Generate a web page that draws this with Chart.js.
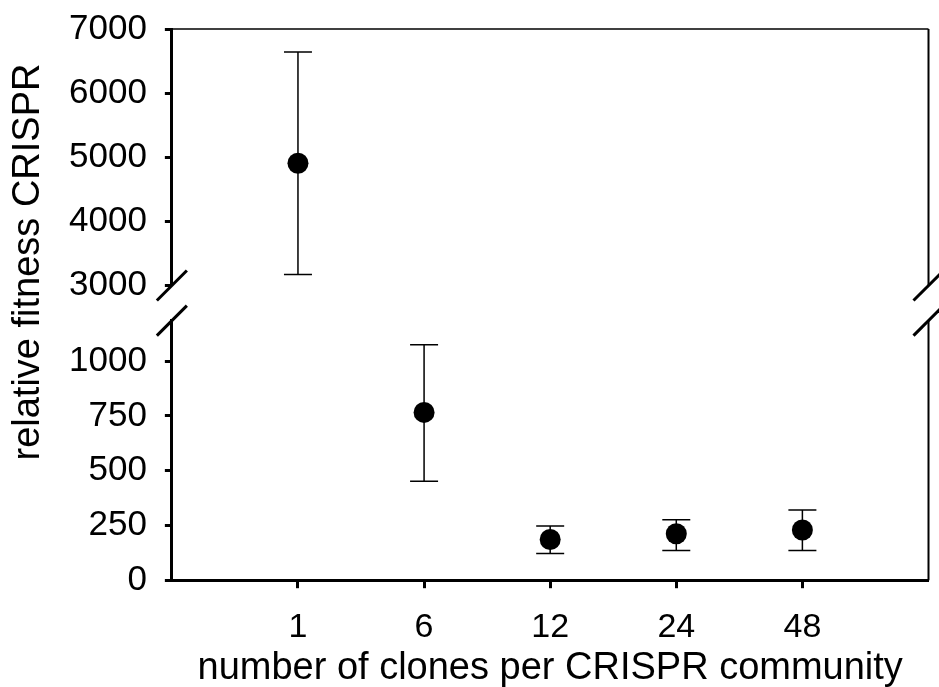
<!DOCTYPE html>
<html>
<head>
<meta charset="utf-8">
<script src="https://cdn.jsdelivr.net/npm/chart.js@4.4.1/dist/chart.umd.min.js"></script>
<style>
  html, body { margin: 0; padding: 0; background: #fff; }
  #wrap { width: 939px; height: 687px; }
</style>
</head>
<body>
<div id="wrap"><canvas id="fitnessChart" width="939" height="687"></canvas></div>
<script>
// values (mean with error bar ends)
const cloneLabels = ['1', '6', '12', '24', '48'];
const meanFitness = [4907, 766, 186, 212, 229];
const upperFitness = [6643, 1075, 247, 276, 320];
const lowerFitness = [3171, 452, 122, 136, 136];
const upperTicks = [3000, 4000, 5000, 6000, 7000];
const lowerTicks = [0, 250, 500, 750, 1000];
const breakAt = 2000;

const FONT = '"Liberation Sans", Arial, sans-serif';

// points above the break go to the upper panel, the rest to the lower one
function panelData(upper) {
  const out = [];
  meanFitness.forEach((v, i) => {
    if ((v > breakAt) === upper) {
      out.push({ x: i + 1, y: v, lo: lowerFitness[i], hi: upperFitness[i] });
    }
  });
  return out;
}

const errorBars = {
  id: 'errorBars',
  beforeDatasetsDraw(chart) {
    const ctx = chart.ctx;
    ctx.save();
    ctx.strokeStyle = '#000';
    ctx.lineWidth = 1.5;
    chart.data.datasets.forEach((ds, i) => {
      const meta = chart.getDatasetMeta(i);
      const ys = chart.scales[ds.yAxisID];
      meta.data.forEach((pt, j) => {
        const d = ds.data[j];
        const top = ys.getPixelForValue(d.hi);
        const bot = ys.getPixelForValue(d.lo);
        ctx.beginPath();
        ctx.moveTo(pt.x, top); ctx.lineTo(pt.x, bot);
        ctx.moveTo(pt.x - 14, top); ctx.lineTo(pt.x + 14, top);
        ctx.moveTo(pt.x - 14, bot); ctx.lineTo(pt.x + 14, bot);
        ctx.stroke();
      });
    });
    ctx.restore();
  }
};

// frame, axis break marks and the y title
const frame = {
  id: 'frame',
  afterDraw(chart) {
    const ctx = chart.ctx;
    const { left, right, top, bottom } = chart.chartArea;
    const upTop = chart.scales.yTop;
    const lowBot = chart.scales.yBot;
    ctx.save();
    ctx.strokeStyle = '#000';
    ctx.lineWidth = 1.5;
    ctx.beginPath();
    ctx.moveTo(left, top); ctx.lineTo(right, top);
    ctx.stroke();
    ctx.lineWidth = 2;
    ctx.beginPath();
    ctx.moveTo(right, top); ctx.lineTo(right, upTop.bottom);
    ctx.moveTo(right, lowBot.top); ctx.lineTo(right, bottom);
    ctx.stroke();

    ctx.lineWidth = 3;
    [left, right].forEach(x => {
      [upTop.bottom, lowBot.top].forEach(y => {
        ctx.beginPath();
        ctx.moveTo(x - 15, y + 15);
        ctx.lineTo(x + 15, y - 15);
        ctx.stroke();
      });
    });

    ctx.translate(29, 262);
    ctx.rotate(-Math.PI / 2);
    ctx.fillStyle = '#000';
    ctx.font = '38px ' + FONT;
    ctx.textAlign = 'center';
    ctx.textBaseline = 'middle';
    ctx.fillText('relative fitness CRISPR', 0, 0);
    ctx.restore();
  }
};

function yAxis(extra, ticks) {
  return Object.assign({
    type: 'linear',
    position: 'left',
    stack: 'fitness',
    afterBuildTicks: s => { s.ticks = ticks.map(v => ({ value: v })); },
    ticks: {
      callback: v => String(v),
      font: { family: FONT, size: 35, lineHeight: 0.6 },
      color: '#000',
      padding: 18
    },
    grid: { drawOnChartArea: false, tickLength: 7, tickWidth: 3, tickColor: '#000' },
    border: { color: '#000', width: 3 }
  }, extra);
}

new Chart(document.getElementById('fitnessChart'), {
  type: 'scatter',
  data: {
    datasets: [
      { data: panelData(true), yAxisID: 'yTop' },
      { data: panelData(false), yAxisID: 'yBot' }
    ]
  },
  options: {
    responsive: false,
    animation: false,
    events: [],
    layout: { padding: { left: 51, right: 2, top: 29, bottom: 0 } },
    elements: {
      point: { radius: 10.5, backgroundColor: '#000', borderColor: '#000', borderWidth: 0 }
    },
    plugins: { legend: { display: false }, tooltip: { enabled: false } },
    scales: {
      x: {
        type: 'linear',
        min: 0,
        max: 6,
        afterBuildTicks: s => { s.ticks = cloneLabels.map((_, i) => ({ value: i + 1 })); },
        ticks: {
          callback: v => cloneLabels[v - 1],
          font: { family: FONT, size: 34, lineHeight: 1 },
          color: '#000', padding: 22, maxRotation: 0, autoSkip: false
        },
        grid: { drawOnChartArea: false, tickLength: 8, tickWidth: 3, tickColor: '#000' },
        border: { color: '#000', width: 3 },
        title: {
          display: true,
          text: 'number of clones per CRISPR community',
          font: { family: FONT, size: 38, lineHeight: 0.1 },
          color: '#000',
          padding: { top: 0, bottom: 17 }
        }
      },
      // stacked axes are placed bottom-up in definition order
      yBot: yAxis({ min: 0, max: 1185, stackWeight: 259 }, lowerTicks),
      yGap: {
        type: 'linear', position: 'left', stack: 'fitness', stackWeight: 35,
        min: 0, max: 1,
        ticks: { display: false },
        grid: { display: false },
        border: { display: false }
      },
      yTop: yAxis({ min: 3000, max: 7000, stackWeight: 256 }, upperTicks)
    }
  },
  plugins: [errorBars, frame]
});
</script>
</body>
</html>
